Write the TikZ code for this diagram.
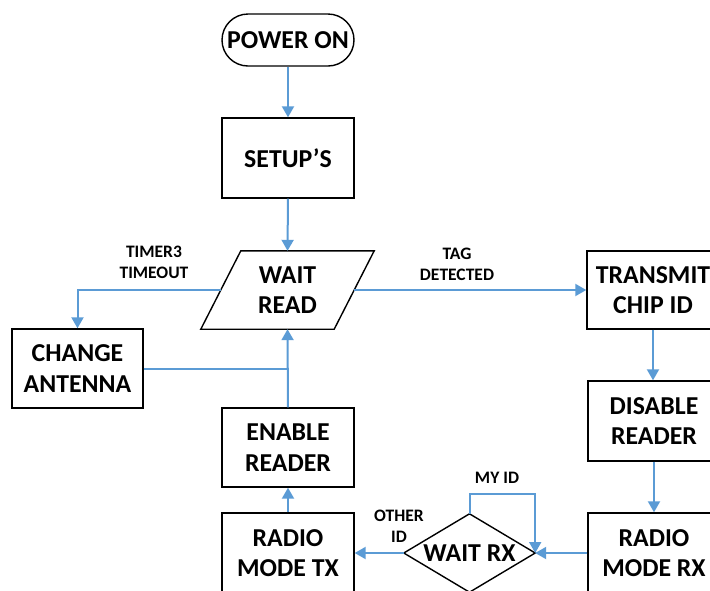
\documentclass[tikz,border=0pt]{standalone}
\usepackage{fontspec}
\setmainfont{Carlito}
\usetikzlibrary{arrows.meta,calc}
\definecolor{flowblue}{HTML}{5B9BD5}
\tikzset{
  boxnode/.style={draw=black,line width=1.4pt,fill=white,minimum width=132pt,minimum height=80pt,inner sep=0pt,align=center,font=\fontsize{25.8}{30.5}\selectfont\bfseries},
  plainnode/.style={draw=none,minimum width=132pt,minimum height=78pt,inner sep=0pt,align=center,font=\fontsize{25.8}{30.5}\selectfont\bfseries},
  lbl/.style={align=center,inner sep=0pt,font=\fontsize{17.5}{21}\selectfont\bfseries},
  conn/.style={draw=flowblue,line width=2pt,-{Triangle[width=12pt,length=11pt]}},
  plainconn/.style={draw=flowblue,line width=2pt},
  outline/.style={draw=black,line width=1.4pt,line join=miter}
}
\begin{document}
\begin{tikzpicture}[x=1pt,y=-1pt]
\useasboundingbox (0,0) rectangle (710,590);
\clip (0,0) rectangle (710,590);
% nodes
\node[boxnode,rounded corners=26pt,minimum height=52pt] (power) at (288,40) {POWER ON};
\node[boxnode] (setup) at (288,158) {SETUP’S};
\node[plainnode,minimum width=133pt] (wait) at (287.5,290) {WAIT\\READ};
\draw[outline] ([xshift=-20pt]wait.south west) -- ([xshift=-20pt]wait.south east) -- ([xshift=20pt]wait.north east) -- ([xshift=20pt]wait.north west) -- cycle;
\node[boxnode,minimum width=131pt,minimum height=79pt] (change) at (77.5,368.5) {CHANGE\\ANTENNA};
\node[boxnode,minimum height=79pt] (enable) at (288,447.5) {ENABLE\\READER};
\node[boxnode] (radiotx) at (288,553) {RADIO\\MODE TX};
\node[plainnode,minimum width=131pt] (waitrx) at (469.5,553) {WAIT RX};
\draw[outline] (waitrx.west) -- (waitrx.north) -- (waitrx.east) -- (waitrx.south) -- cycle;
\node[boxnode] (radiorx) at (654,553) {RADIO\\MODE RX};
\node[boxnode,minimum height=78pt] (transmit) at (653,290) {TRANSMIT\\CHIP ID};
\node[boxnode] (disable) at (654,421) {DISABLE\\READER};
% labels
\node[lbl] (timer) at (154,262) {TIMER3\\TIMEOUT};
\node[lbl] (tag) at (457,264) {TAG\\DETECTED};
\node[lbl] (myid) at (497,478) {MY ID};
\node[lbl] (otherid) at (399,526) {OTHER\\ID};
% connectors
\draw[conn] (power.south) -- (setup.north);
\draw[conn] (setup.south) -- (wait.north);
\draw[conn] (wait.west) -| (change.north);
\draw[plainconn] (change.east) -- (change.east -| wait.south);
\draw[conn] (enable.north) -- (wait.south);
\draw[conn] (radiotx.north) -- (enable.south);
\draw[conn] (wait.east) -- (transmit.west);
\draw[conn] (transmit.south) -- (transmit.south |- disable.north);
\draw[conn] (disable.south) -- (radiorx.north);
\draw[conn] (radiorx.west) -- (waitrx.east);
\draw[conn] (waitrx.west) -- (radiotx.east);
\draw[conn] (waitrx.north) -- ++(0,-20) -| (waitrx.east);
\end{tikzpicture}
\end{document}
